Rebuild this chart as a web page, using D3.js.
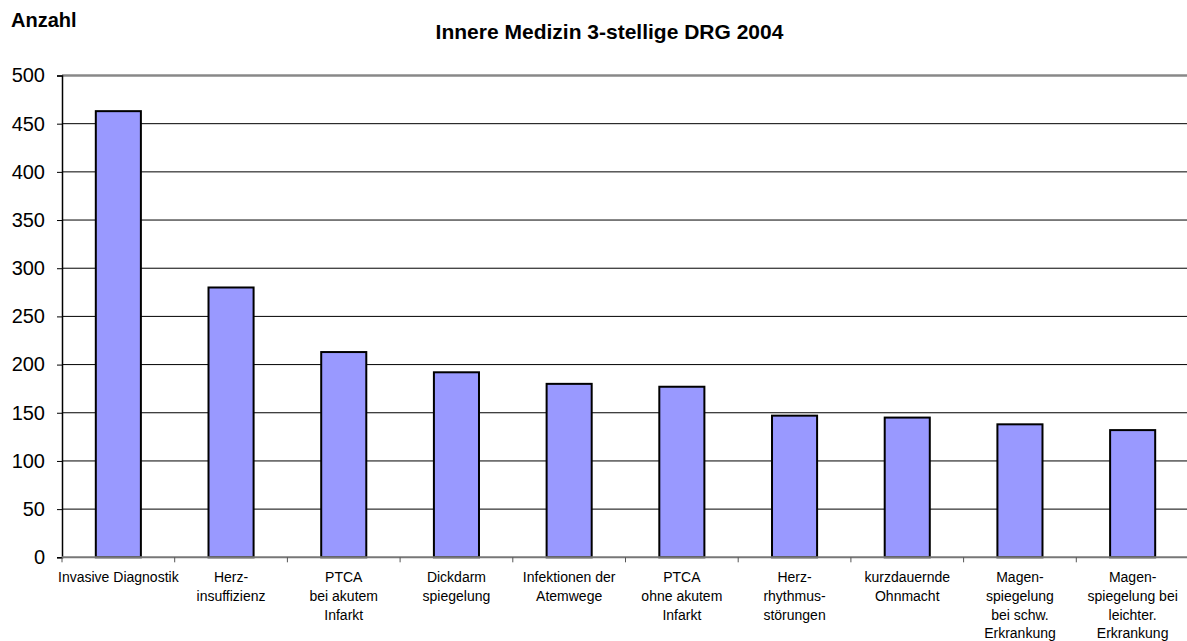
<!DOCTYPE html>
<html><head><meta charset="utf-8">
<script src="https://cdn.jsdelivr.net/npm/d3@7"></script>
<style>body{margin:0;background:#fff}svg{display:block}text{font-family:"Liberation Sans",Arial,sans-serif}</style>
</head><body><svg id="c" width="1187" height="641"></svg>
<script>
const categories = [
  ["Invasive Diagnostik"],
  ["Herz-","insuffizienz"],
  ["PTCA","bei akutem","Infarkt"],
  ["Dickdarm","spiegelung"],
  ["Infektionen der","Atemwege"],
  ["PTCA","ohne akutem","Infarkt"],
  ["Herz-","rhythmus-","störungen"],
  ["kurzdauernde","Ohnmacht"],
  ["Magen-","spiegelung","bei schw.","Erkrankung"],
  ["Magen-","spiegelung bei","leichter.","Erkrankung"]
];
const values = [463, 280, 213, 192, 180, 177, 147, 145, 138, 132];
const yTicks = [0, 50, 100, 150, 200, 250, 300, 350, 400, 450, 500];
const title = "Innere Medizin 3-stellige DRG 2004";
const yTitle = "Anzahl";

const svg = d3.select("#c");
const L = 62, R = 1189, T = 75.5, B = 557.3;
const x = d3.scaleBand().domain(d3.range(categories.length)).range([L, R]).paddingInner(0).paddingOuter(0);
const y = d3.scaleLinear().domain([0, 500]).range([B, T]);

// gridlines
svg.append("g").selectAll("line").data(yTicks.filter(d => d > 0 && d < 500)).join("line")
  .attr("x1", L).attr("x2", R).attr("y1", d => y(d)).attr("y2", d => y(d))
  .attr("stroke", "#000").attr("stroke-width", 1);
// top border (gray)
svg.append("line").attr("x1", L).attr("x2", R).attr("y1", y(500)).attr("y2", y(500))
  .attr("stroke", "#888").attr("stroke-width", 2.5);

// bars
const bw = x.bandwidth() * 0.4;
svg.append("g").selectAll("rect").data(values).join("rect")
  .attr("x", (d, i) => x(i) + (x.bandwidth() - bw) / 2)
  .attr("y", d => y(d)).attr("width", bw).attr("height", d => B - y(d))
  .attr("fill", "#9999ff").attr("stroke", "#000").attr("stroke-width", 2);

// y axis
const ya = svg.append("g").attr("transform", `translate(${L},0)`)
  .call(d3.axisLeft(y).tickValues(yTicks).tickSize(5).tickPadding(12));
ya.select(".domain").attr("stroke", "#000").attr("stroke-width", 1.5);
ya.selectAll(".tick line").attr("stroke", "#000");
ya.selectAll("text").attr("font-size", 20).attr("fill", "#000").attr("font-family", "Liberation Sans, Arial, sans-serif");

// x axis
svg.append("line").attr("x1", L).attr("x2", R).attr("y1", B).attr("y2", B).attr("stroke", "#777").attr("stroke-width", 2);
svg.append("g").selectAll("line").data(d3.range(categories.length + 1)).join("line")
  .attr("x1", i => L + i * x.bandwidth()).attr("x2", i => L + i * x.bandwidth())
  .attr("y1", B).attr("y2", B + 5).attr("stroke", "#555").attr("stroke-width", 1);

const labels = svg.append("g").selectAll("text").data(categories).join("text")
  .attr("text-anchor", "middle").attr("font-size", 14).attr("fill", "#000")
  .attr("x", (d, i) => x(i) + x.bandwidth() / 2).attr("y", 582);
labels.each(function(d) {
  const t = d3.select(this);
  d.forEach((line, k) => t.append("tspan").attr("x", t.attr("x")).attr("dy", k === 0 ? 0 : 18.8).text(line));
});

svg.append("text").attr("x", 609.5).attr("y", 39).attr("text-anchor", "middle")
  .attr("font-size", 21).attr("font-weight", "bold").text(title);
svg.append("text").attr("x", 11).attr("y", 27).attr("font-size", 20).attr("font-weight", "bold").text(yTitle);
</script></body></html>
